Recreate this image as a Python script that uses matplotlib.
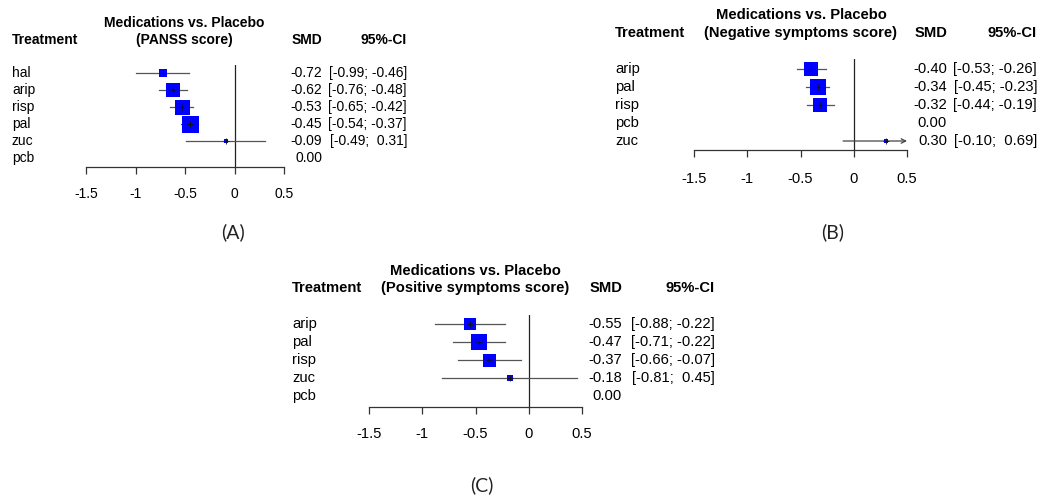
import numpy as np
import matplotlib
matplotlib.use('Agg')
import matplotlib.pyplot as plt
from matplotlib.transforms import Affine2D, blended_transform_factory

plt.rcParams['font.family'] = ['Liberation Sans', 'DejaVu Sans']

W, H = 1041, 495

# (A) PANSS score
a_trt = ['hal', 'arip', 'risp', 'pal', 'zuc', 'pcb']
a_smd = [-0.72, -0.62, -0.53, -0.45, -0.09, 0.00]
a_lo = [-0.99, -0.76, -0.65, -0.54, -0.49, np.nan]
a_hi = [-0.46, -0.48, -0.42, -0.37, 0.31, np.nan]
a_box = [8, 14, 15, 17, 4, 0]   # square side, relative weight

# (B) Negative symptoms score
b_trt = ['arip', 'pal', 'risp', 'pcb', 'zuc']
b_smd = [-0.40, -0.34, -0.32, 0.00, 0.30]
b_lo = [-0.53, -0.45, -0.44, np.nan, -0.10]
b_hi = [-0.26, -0.23, -0.19, np.nan, 0.69]
b_box = [14, 16, 14, 0, 5]

# (C) Positive symptoms score
c_trt = ['arip', 'pal', 'risp', 'zuc', 'pcb']
c_smd = [-0.55, -0.47, -0.37, -0.18, 0.00]
c_lo = [-0.88, -0.71, -0.66, -0.81, np.nan]
c_hi = [-0.22, -0.22, -0.07, 0.45, np.nan]
c_box = [12, 16, 13, 6, 0]

x_ticks = [-1.5, -1, -0.5, 0, 0.5]
x_ticklabels = ['-1.5', '-1', '-0.5', '0', '0.5']

fig = plt.figure(figsize=(W / 100, H / 100), dpi=100)
# pixel coords, origin top-left
px = Affine2D().scale(1 / W, -1 / H).translate(0, 1) + fig.transFigure


def fmt(v):
    return f'{v:.2f}'


def fmt_ci(lo, hi):
    s_hi = fmt(hi) if hi < 0 else ' ' + fmt(hi)
    return f'[{fmt(lo)}; {s_hi}]'


def forest(trt, smd, lo, hi, box, subtitle, lay, fs):
    x0, x1, y0, y1 = lay['rect']
    ax = fig.add_axes([x0 / W, 1 - y1 / H, (x1 - x0) / W, (y1 - y0) / H])
    n = len(trt)
    ax.set_xlim(-1.5, 0.5)
    ax.set_ylim(n - 1 + lay['pad_bot'], -lay['pad_top'])
    for s in ['top', 'right', 'left']:
        ax.spines[s].set_visible(False)
    ax.spines['bottom'].set_linewidth(0.9)
    ax.spines['bottom'].set_color('#333333')
    ax.set_yticks([])
    ax.set_xticks(x_ticks)
    ax.set_xticklabels(x_ticklabels, fontsize=fs)
    ax.tick_params(axis='x', direction='out', length=5, width=0.9, color='#333333', pad=lay['tick_pad'])
    ax.axvline(0, color='#222222', lw=0.9, zorder=1)

    for i in range(n):
        if np.isnan(lo[i]):
            continue
        hi_c = min(hi[i], 0.5)
        if hi[i] > 0.5:
            # CI runs past the axis -> arrow
            ax.annotate('', xy=(hi_c, i), xytext=(lo[i], i),
                        arrowprops=dict(arrowstyle='->', color='#444444', lw=0.9,
                                        shrinkA=0, shrinkB=0, mutation_scale=8),
                        annotation_clip=False)
        else:
            ax.plot([lo[i], hi_c], [i, i], color='#555555', lw=0.9, zorder=2)
        ax.plot(smd[i], i, marker='s', ms=box[i] * 0.72, color='#0000ff', mew=0, zorder=3)
        ax.plot(smd[i], i, marker='+', ms=4, color='#111111', mew=0.6, zorder=4)

    rows = blended_transform_factory(px, ax.transData)
    for i in range(n):
        ax.text(lay['trt_x'], i, trt[i], transform=rows, ha='left', va='center', fontsize=fs)
        ax.text(lay['smd_x'], i, fmt(smd[i]), transform=rows, ha='right', va='center', fontsize=fs)
        if not np.isnan(lo[i]):
            ax.text(lay['ci_x'], i, fmt_ci(lo[i], hi[i]), transform=rows, ha='right', va='center', fontsize=fs)

    h1, h2 = lay['head_y']
    fig.text(lay['title_x'], h1, 'Medications vs. Placebo', transform=px, ha='center', va='center',
             fontsize=fs, fontweight='bold')
    fig.text(lay['title_x'], h2, subtitle, transform=px, ha='center', va='center',
             fontsize=fs, fontweight='bold')
    fig.text(lay['trt_x'], h2, 'Treatment', transform=px, ha='left', va='center', fontsize=fs, fontweight='bold')
    fig.text(lay['smd_x'], h2, 'SMD', transform=px, ha='right', va='center', fontsize=fs, fontweight='bold')
    fig.text(lay['ci_x'], h2, '95%-CI', transform=px, ha='right', va='center', fontsize=fs, fontweight='bold')
    lx, ly, lab = lay['label']
    fig.text(lx, ly, lab, transform=px, ha='center', va='center', fontsize=14,
             family=['Lato', 'DejaVu Sans'], color='#222222')
    return ax


lay_a = dict(rect=(86, 284, 65, 167), pad_top=0.47, pad_bot=0.53, tick_pad=9.5,
             trt_x=12, title_x=184, smd_x=322, ci_x=407, head_y=(23, 40), label=(233, 232, '(A)'))
lay_b = dict(rect=(694, 907, 59, 150), pad_top=0.56, pad_bot=0.5, tick_pad=10.5,
             trt_x=615, title_x=801, smd_x=947, ci_x=1037, head_y=(15, 33), label=(833, 232, '(B)'))
lay_c = dict(rect=(369, 582, 315, 407), pad_top=0.5, pad_bot=0.61, tick_pad=9.5,
             trt_x=292, title_x=475, smd_x=622, ci_x=715, head_y=(271, 288), label=(482, 485, '(C)'))

forest(a_trt, a_smd, a_lo, a_hi, a_box, '(PANSS score)', lay_a, 10)
forest(b_trt, b_smd, b_lo, b_hi, b_box, '(Negative symptoms score)', lay_b, 10.6)
forest(c_trt, c_smd, c_lo, c_hi, c_box, '(Positive symptoms score)', lay_c, 10.6)

fig.savefig('out.png', dpi=100)
